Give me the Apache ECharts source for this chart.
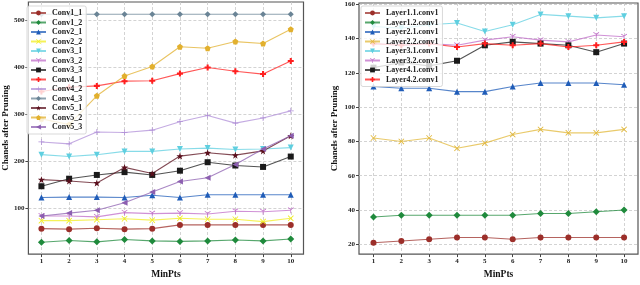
<!DOCTYPE html>
<html><head><meta charset="utf-8">
<script src="https://cdn.jsdelivr.net/npm/echarts@6/dist/echarts.min.js"></script>
<style>html,body{margin:0;padding:0;background:#fff}#c{width:640px;height:285px}</style>
</head><body><div id="c"></div>
<script>
// ---- data ----
const minPts = [1,2,3,4,5,6,7,8,9,10];
const leftYTicks = [100,200,300,400,500];
const rightYTicks = [20,40,60,80,100,120,140,160];

const leftNames = ['Conv1_1','Conv1_2','Conv2_1','Conv2_2','Conv3_1','Conv3_2','Conv3_3','Conv4_1','Conv4_2','Conv4_3','Conv5_1','Conv5_2','Conv5_3'];
const conv1_1 = [57,56,58,56,57,65,65,65,65,65];
const conv1_2 = [28,32,29,34,31,30,31,33,31,35];
const conv2_1 = [123,124,124,123,128,123,129,129,129,129];
const conv2_2 = [74,74,76,78,75,79,77,77,72,79];
const conv3_1 = [214,210,214,221,221,226,228,225,226,229];
const conv3_2 = [84,84,82,91,89,90,88,94,93,96];
const conv3_3 = [147,163,171,177,171,180,198,191,188,210];
const conv4_1 = [348,357,360,370,371,386,399,391,385,413];
const conv4_2 = [241,237,262,261,266,284,297,281,292,307];
const conv4_3 = [512,512,512,512,512,512,512,512,512,512];
const conv5_1 = [161,158,154,187,174,211,218,213,222,254];
const conv5_2 = [290,278,339,381,401,443,440,454,450,480];
const conv5_3 = [84,90,96,112,135,157,165,193,226,254];

const rightNames = ['Layer1.1.conv1','Layer1.2.conv1','Layer2.1.conv1','Layer2.2.conv1','Layer3.1.conv1','Layer3.2.conv1','Layer4.1.conv1','Layer4.2.conv1'];
const layer1_1 = [21,22,23,24,24,23,24,24,24,24];
const layer1_2 = [36,37,37,37,37,37,38,38,39,40];
const layer2_1 = [112,111,111,109,109,112,114,114,114,113];
const layer2_2 = [82,80,82,76,79,84,87,85,85,87];
const layer3_1 = [147,146,148,149,144,148,154,153,152,153];
const layer3_2 = [137,136,137,136,139,141,139,138,142,141];
const layer4_1 = [123,126,124,127,136,138,137,136,132,137];
const layer4_2 = [137,136,137,135,137,136,137,135,136,138];

// ---- styles ----
const S = {
  circle:'circle',
  diamond:'diamond',
  tri:'triangle',
  x:'path://M0,1L1,0L5,4L9,0L10,1L6,5L10,9L9,10L5,6L1,10L0,9L4,5Z',
  triDown:'path://M0,0L10,0L5,10Z',
  tri1:'path://M4.4,5L4.4,10L5.6,10L5.6,5.3L9.8,2.9L9.2,1.9L5,4.3L0.8,1.9L0.2,2.9Z',
  square:'rect',
  plusF:'path://M3.3,0H6.7V3.3H10V6.7H6.7V10H3.3V6.7H0V3.3H3.3Z',
  plus:'path://M4.4,0H5.6V4.4H10V5.6H5.6V10H4.4V5.6H0V4.4H4.4Z',
  thinD:'path://M5,0L8.2,5L5,10L1.8,5Z',
  star:'path://M5,0L6.2,3.5L10,3.6L7,5.9L8.1,9.5L5,7.4L1.9,9.5L3,5.9L0,3.6L3.8,3.5Z',
  pent:'path://M5,0L10,3.8L8.1,10L1.9,10L0,3.8Z',
  triLeft:'path://M10,0L10,10L0,5Z'
};
const FONT = '"Liberation Serif","Times New Roman",serif';

function mk(name, vals, color, sym, size, idx){
  return {
    name, type:'line', xAxisIndex:idx, yAxisIndex:idx,
    data: minPts.map((x,i)=>[x, vals[i]]),
    symbol: sym, symbolSize: size, showSymbol:true,
    lineStyle:{color, width:1.1, opacity:0.75},
    itemStyle:{color, borderWidth:0},
    emphasis:{disabled:true}, animation:false, z:2
  };
}

const series = [
  mk('Conv1_1', conv1_1, '#9c2f2a', S.circle, 6, 0),
  mk('Conv1_2', conv1_2, '#1f8a3c', S.diamond, 7, 0),
  mk('Conv2_1', conv2_1, '#1f5cb8', S.tri, 6, 0),
  mk('Conv2_2', conv2_2, '#f2ee22', S.x, 6, 0),
  mk('Conv3_1', conv3_1, '#5fcfe0', S.triDown, 6, 0),
  mk('Conv3_2', conv3_2, '#c06cc8', S.tri1, 6, 0),
  mk('Conv3_3', conv3_3, '#1a1a1a', S.square, 6, 0),
  mk('Conv4_1', conv4_1, '#ff1f1f', S.plusF, 6, 0),
  mk('Conv4_2', conv4_2, '#b08fd8', S.plus, 6, 0),
  mk('Conv4_3', conv4_3, '#6a8496', S.thinD, 6, 0),
  mk('Conv5_1', conv5_1, '#5a0f1c', S.star, 7, 0),
  mk('Conv5_2', conv5_2, '#e2b02e', S.pent, 6, 0),
  mk('Conv5_3', conv5_3, '#8c5fb0', S.triLeft, 6, 0),
  mk('Layer1.1.conv1', layer1_1, '#9c2f2a', S.circle, 6, 1),
  mk('Layer1.2.conv1', layer1_2, '#1f8a3c', S.diamond, 7, 1),
  mk('Layer2.1.conv1', layer2_1, '#1f5cb8', S.tri, 6, 1),
  mk('Layer2.2.conv1', layer2_2, '#e2b83a', S.x, 6, 1),
  mk('Layer3.1.conv1', layer3_1, '#5fcfe0', S.triDown, 6, 1),
  mk('Layer3.2.conv1', layer3_2, '#c06cc8', S.tri1, 6, 1),
  mk('Layer4.1.conv1', layer4_1, '#1a1a1a', S.square, 6, 1),
  mk('Layer4.2.conv1', layer4_2, '#ff1f1f', S.plusF, 6, 1)
];

const gridLine = {show:true, lineStyle:{color:'#c8c8c8', type:[3,2], width:0.8}};
const tickLbl = {fontFamily:FONT, fontWeight:'bold', fontSize:7, color:'#222'};

function xAx(idx, min, max){
  return {
    type:'value', gridIndex:idx, min, max,
    axisLine:{show:false},
    axisTick:{show:true, length:3, customValues:minPts, lineStyle:{color:'#444'}},
    axisLabel:Object.assign({customValues:minPts, margin:4}, tickLbl),
    splitLine:gridLine,
    name:'MinPts', nameLocation:'middle', nameGap:14,
    nameTextStyle:{fontFamily:FONT, fontWeight:'bold', fontSize:9.5, color:'#111'}
  };
}
function yAx(idx, min, max, ticks, gap){
  return {
    type:'value', gridIndex:idx, min, max,
    axisLine:{show:false},
    axisTick:{show:true, length:3, customValues:ticks, lineStyle:{color:'#444'}},
    axisLabel:Object.assign({customValues:ticks, margin:4}, tickLbl),
    splitLine:gridLine,
    name:'Chanels after Pruning', nameLocation:'middle', nameGap:gap,
    nameTextStyle:{fontFamily:FONT, fontWeight:'bold', fontSize:9, color:'#111'}
  };
}

function legend(names, left, top){
  return {
    data:names, orient:'vertical', left, top,
    itemWidth:15, itemHeight:6, itemGap:1.5,
    padding:[3,4,3,3],
    backgroundColor:'rgba(255,255,255,0.8)', borderColor:'#cfcfcf', borderWidth:0.8, borderRadius:2,
    textStyle:{fontFamily:FONT, fontWeight:'bold', fontSize:8, color:'#222', lineHeight:7, padding:[0,0,0,1]},
    selectedMode:false, z:10
  };
}

const chart = echarts.init(document.getElementById('c'), null, {renderer:'canvas'});
chart.setOption({
  animation:false,
  backgroundColor:'#fff',
  grid:[
    {left:25, top:2, width:278.5, height:264, show:true, borderColor:'#555', borderWidth:1.2, backgroundColor:'transparent'},
    {left:359, top:3, width:279, height:263, show:true, borderColor:'#555', borderWidth:1.2, backgroundColor:'transparent'}
  ],
  xAxis:[xAx(0, 0.53, 10.46), xAx(1, 0.48, 10.5)],
  yAxis:[yAx(0, 3, 538, leftYTicks, 18), yAx(1, 14.35, 160.65, rightYTicks, 20)],
  legend:[legend(leftNames, 27, 6), legend(rightNames, 361, 6)],
  series
});
</script>
</body></html>
